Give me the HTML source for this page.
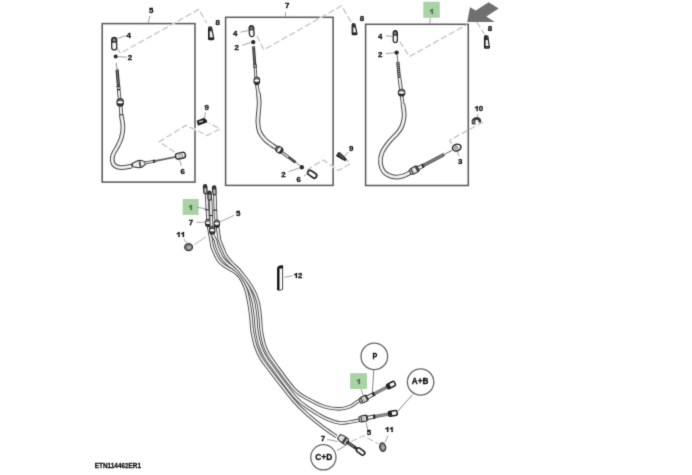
<!DOCTYPE html>
<html><head><meta charset="utf-8"><style>
html,body{margin:0;padding:0;background:#fff;}
svg{display:block;}
</style></head><body>
<svg width="692" height="475" viewBox="0 0 692 475">
<defs><filter id="soft" x="0" y="0" width="692" height="475" filterUnits="userSpaceOnUse" color-interpolation-filters="sRGB"><feConvolveMatrix order="3" kernelMatrix="1 6 1 6 36 6 1 6 1" divisor="64" edgeMode="duplicate" preserveAlpha="true"/></filter></defs>
<g filter="url(#soft)">
<rect width="692" height="475" fill="#fff"/>
<g fill="none" stroke="#5c5c5c" stroke-width="1.55">
<rect x="102.2" y="23.6" width="92.8" height="158.5"/>
<rect x="225.6" y="17.3" width="107.5" height="168.1"/>
<rect x="365.6" y="24.3" width="102.7" height="161.2"/>
</g>
<rect x="172.2" y="22.5" width="2.9" height="2.3" fill="#fff" opacity="0.8"/>
<rect x="319.6" y="16.2" width="2.9" height="2.3" fill="#fff" opacity="0.8"/>
<rect x="193.9" y="127.9" width="2.3" height="2.6" fill="#fff" opacity="0.8"/>
<rect x="332" y="165.6" width="2.3" height="2.6" fill="#fff" opacity="0.8"/>
<polyline points="116.8,48 120.6,53.2 198.8,9.4 206.8,23.2" fill="none" stroke="#c2c2c2" stroke-width="1.25" stroke-dasharray="6.4,2.6"/>
<polyline points="174.6,152 159.2,141.7 186,125.3 207,135.5 220,129 209,123" fill="none" stroke="#c2c2c2" stroke-width="1.25" stroke-dasharray="6.4,2.6"/>
<g transform="translate(114.2,43.7) rotate(0)"><rect x="-2.5" y="-6.25" width="5" height="12.5" rx="2.5" fill="#f4f4f4" stroke="#2e2e2e" stroke-width="1.3"/><path d="M-2.5,-3.75 A2.5,2.5 0 0 1 2.5,-3.75 L2.5,-1.0 L-2.5,-1.0 Z" fill="#333"/><rect x="-1.2" y="-4.85" width="2.4" height="2.5" rx="0.6" fill="#999"/></g>
<circle cx="115.7" cy="56.4" r="2.0" fill="#2c2c2c"/>
<line x1="117.6" y1="38.5" x2="126" y2="35.5" stroke="#8a8a8a" stroke-width="0.8"/>
<line x1="117.8" y1="56.6" x2="127" y2="57.2" stroke="#8a8a8a" stroke-width="0.8"/>
<path d="M116.3,63.0 C116.4,64.0 116.8,68.0 116.9,69.0" fill="none" stroke="#999" stroke-width="1.1" stroke-linecap="round"/>
<line x1="117.1" y1="69.5" x2="118.4" y2="85.4" stroke="#333" stroke-width="3.2"/><line x1="117.1" y1="70.1" x2="118.4" y2="84.80000000000001" stroke="#8a8a8a" stroke-width="1.5000000000000002" stroke-dasharray="1.2,0.9"/>
<line x1="118.4" y1="85.4" x2="118.8" y2="90.7" stroke="#2a2a2a" stroke-width="3.6"/><line x1="118.53999999999999" y1="87.25500000000001" x2="118.66" y2="88.84500000000001" stroke="#eee" stroke-width="2.2"/>
<line x1="118.8" y1="90.7" x2="119.6" y2="98.6" stroke="#4a4a4a" stroke-width="3.6"/><line x1="118.8" y1="90.7" x2="119.6" y2="98.6" stroke="#f0f0f0" stroke-width="1.8"/>
<line x1="120.6" y1="106" x2="121.4" y2="115.8" stroke="#4a4a4a" stroke-width="3.8"/><line x1="120.6" y1="106" x2="121.4" y2="115.8" stroke="#f0f0f0" stroke-width="1.9999999999999998"/>
<line x1="119" y1="114.8" x2="123.4" y2="114.8" stroke="#333" stroke-width="1"/>
<g transform="translate(120.2,102.4)"><ellipse rx="3.8" ry="4.3" fill="#2e2e2e"/><ellipse cy="-0.2" rx="2.9" ry="1.3" fill="#fafafa"/><ellipse cy="-2.6" rx="2.4" ry="0.6" fill="#888"/></g>
<path d="M121.3,115.6 C121.6,117.4 122.9,123.0 122.9,126.6 C123.0,130.2 122.4,133.8 121.6,137.0 C120.8,140.2 119.5,142.3 118.0,145.5 C116.5,148.7 113.3,152.8 112.6,156.0 C111.9,159.2 112.3,162.6 113.7,164.5 C115.1,166.4 118.0,167.3 121.0,167.6 C124.0,167.9 129.8,166.4 131.6,166.2" fill="none" stroke="#4a4a4a" stroke-width="4.7" stroke-linecap="butt"/><path d="M121.3,115.6 C121.6,117.4 122.9,123.0 122.9,126.6 C123.0,130.2 122.4,133.8 121.6,137.0 C120.8,140.2 119.5,142.3 118.0,145.5 C116.5,148.7 113.3,152.8 112.6,156.0 C111.9,159.2 112.3,162.6 113.7,164.5 C115.1,166.4 118.0,167.3 121.0,167.6 C124.0,167.9 129.8,166.4 131.6,166.2" fill="none" stroke="#efefef" stroke-width="2.7" stroke-linecap="butt"/>
<g transform="translate(139.5,164) rotate(-10)"><path d="M-7.6,-1.5 L-1.5,-3.5 L1.8,-3.5 L5.6,-1.5 L5.6,1.5 L1.8,3.5 L-1.5,3.5 L-7.6,1.5 Z" fill="#ececec" stroke="#333" stroke-width="1.1"/><rect x="-0.4" y="-3.4" width="1.8" height="6.8" fill="#555"/><line x1="-7.2" y1="-1.3" x2="-7.2" y2="1.3" stroke="#333" stroke-width="1"/></g>
<line x1="145" y1="163" x2="153.2" y2="161.4" stroke="#4a4a4a" stroke-width="3.0"/><line x1="145" y1="163" x2="153.2" y2="161.4" stroke="#f0f0f0" stroke-width="1.2"/>
<line x1="153" y1="161.5" x2="155.2" y2="161" stroke="#222" stroke-width="3.2"/>
<path d="M155.0,161.0 C158.2,160.4 171.2,157.8 174.5,157.2" fill="none" stroke="#666" stroke-width="1.8" stroke-linecap="round"/>
<g transform="translate(180.5,155.7) rotate(-12)"><rect x="-5" y="-2.9" width="10" height="5.8" rx="2.6" fill="#fafafa" stroke="#2e2e2e" stroke-width="1.5"/><rect x="-1.8" y="-1.2" width="3.8" height="2.4" fill="#fff" stroke="#555" stroke-width="0.6"/></g>
<line x1="179.8" y1="160" x2="181.3" y2="166.2" stroke="#8a8a8a" stroke-width="0.8"/>
<g transform="translate(202,121.5) rotate(-15)"><path d="M-5,-2 L3,-3 L5,0 L5,2 L-5,3 Z" fill="#222"/><rect x="-3" y="-1" width="4" height="1.6" fill="#bbb"/></g>
<line x1="205.5" y1="112.4" x2="204.5" y2="118.2" stroke="#8a8a8a" stroke-width="0.8"/>
<path d="M208.6,28.2 Q208.6,26.8 209.9,26.8 L211.6,27.400000000000002 L213.79999999999998,38.800000000000004 Q213.79999999999998,39.6 212.79999999999998,39.6 L209.5,39.6 Q208.6,39.6 208.6,38.7 Z" fill="#f6f6f6" stroke="#222" stroke-width="1.2"/><path d="M209.0,28.2 Q209.0,27.2 209.9,27.2 L211.4,27.7 L212.1,31.28 L209.0,31.28 Z" fill="#333"/><rect x="208.9" y="37.4" width="4.6000000000000005" height="1.6" fill="#222"/><line x1="209.2" y1="27.8" x2="209.2" y2="38.6" stroke="#222" stroke-width="1"/>
<polyline points="256.8,35.8 263.9,49.8 341.6,5.8 352.2,23.8" fill="none" stroke="#c2c2c2" stroke-width="1.25" stroke-dasharray="6.4,2.6"/>
<polyline points="306.6,170 323.4,160 338.2,170.5 350.3,163.7 346.6,159.5" fill="none" stroke="#c2c2c2" stroke-width="1.25" stroke-dasharray="6.4,2.6"/>
<g transform="translate(251.6,31.2) rotate(-3)"><rect x="-2.3" y="-5.5" width="4.6" height="11" rx="2.3" fill="#f4f4f4" stroke="#2e2e2e" stroke-width="1.3"/><path d="M-2.3,-3.2 A2.3,2.3 0 0 1 2.3,-3.2 L2.3,-0.8799999999999999 L-2.3,-0.8799999999999999 Z" fill="#333"/><rect x="-0.9999999999999998" y="-4.1" width="1.9999999999999996" height="2.2" rx="0.6" fill="#999"/></g>
<circle cx="253.2" cy="42.1" r="2.2" fill="#2c2c2c"/>
<line x1="240.5" y1="32.1" x2="249" y2="30.5" stroke="#8a8a8a" stroke-width="0.8"/>
<line x1="242.1" y1="45.3" x2="250.5" y2="42.6" stroke="#8a8a8a" stroke-width="0.8"/>
<line x1="253.5" y1="46.3" x2="254.8" y2="64.2" stroke="#333" stroke-width="2.9"/><line x1="253.5" y1="46.9" x2="254.8" y2="63.6" stroke="#8a8a8a" stroke-width="1.2" stroke-dasharray="1.2,0.9"/>
<line x1="254.8" y1="64.2" x2="255.2" y2="67.9" stroke="#2a2a2a" stroke-width="3.6"/><line x1="254.94" y1="65.495" x2="255.06" y2="66.60500000000002" stroke="#eee" stroke-width="2.2"/>
<line x1="255.2" y1="67.9" x2="255.8" y2="76.6" stroke="#4a4a4a" stroke-width="3.0"/><line x1="255.2" y1="67.9" x2="255.8" y2="76.6" stroke="#f0f0f0" stroke-width="1.2"/>
<line x1="256.8" y1="84.5" x2="258.2" y2="93.4" stroke="#4a4a4a" stroke-width="3.6"/><line x1="256.8" y1="84.5" x2="258.2" y2="93.4" stroke="#f0f0f0" stroke-width="1.8"/>
<g transform="translate(256.8,80.8)"><ellipse rx="3.4" ry="4.4" fill="#2e2e2e"/><ellipse cy="-0.2" rx="2.5" ry="1.3" fill="#fafafa"/><ellipse cy="-2.6" rx="2.0" ry="0.6" fill="#888"/></g>
<path d="M258.4,93.0 C258.5,94.7 259.2,99.8 259.2,103.0 C259.2,106.2 258.7,108.7 258.5,112.0 C258.3,115.3 257.7,119.4 257.9,122.7 C258.1,126.0 258.4,129.2 259.6,132.0 C260.8,134.8 263.0,137.6 265.2,139.8 C267.4,142.1 270.7,144.1 272.6,145.5 C274.5,146.9 275.9,147.6 276.5,148.0" fill="none" stroke="#4a4a4a" stroke-width="4.7" stroke-linecap="butt"/><path d="M258.4,93.0 C258.5,94.7 259.2,99.8 259.2,103.0 C259.2,106.2 258.7,108.7 258.5,112.0 C258.3,115.3 257.7,119.4 257.9,122.7 C258.1,126.0 258.4,129.2 259.6,132.0 C260.8,134.8 263.0,137.6 265.2,139.8 C267.4,142.1 270.7,144.1 272.6,145.5 C274.5,146.9 275.9,147.6 276.5,148.0" fill="none" stroke="#efefef" stroke-width="2.7" stroke-linecap="butt"/>
<g transform="translate(279.3,149.8) rotate(-55)"><ellipse rx="3.6" ry="4.4" fill="#2e2e2e"/><ellipse cy="-0.2" rx="2.7" ry="1.3" fill="#fafafa"/><ellipse cy="-2.6" rx="2.2" ry="0.6" fill="#888"/></g>
<line x1="282.6" y1="152.8" x2="288.4" y2="157.2" stroke="#4a4a4a" stroke-width="3.2"/><line x1="282.6" y1="152.8" x2="288.4" y2="157.2" stroke="#f0f0f0" stroke-width="1.4000000000000001"/>
<line x1="288.4" y1="157.2" x2="295.6" y2="162.3" stroke="#333" stroke-width="2.7"/><line x1="288.4" y1="157.79999999999998" x2="295.6" y2="161.70000000000002" stroke="#8a8a8a" stroke-width="1.0000000000000002" stroke-dasharray="1.2,0.9"/>
<path d="M295.6,162.3 C296.3,162.9 299.3,165.1 300.0,165.6" fill="none" stroke="#777" stroke-width="1.0" stroke-linecap="round"/>
<circle cx="301.8" cy="167.2" r="2.2" fill="#2c2c2c"/>
<line x1="288.6" y1="171.8" x2="299.3" y2="168" stroke="#8a8a8a" stroke-width="0.8"/>
<g transform="translate(312.2,174.2) rotate(35)"><rect x="-4.9" y="-2.4" width="9.8" height="4.8" rx="2.2" fill="#fafafa" stroke="#2a2a2a" stroke-width="1.8"/></g>
<line x1="304" y1="176.3" x2="308.7" y2="172" stroke="#8a8a8a" stroke-width="0.8"/>
<g transform="translate(341.8,157) rotate(36)"><path d="M-5.6,-1.6 Q-5.6,-2.6 -4.4,-2.6 L1.5,-2.1 L5.4,-1.2 L5.4,1.2 L1.5,2.1 L-4.4,2.6 Q-5.6,2.6 -5.6,1.6 Z" fill="#2a2a2a"/><path d="M-4.2,-0.5 L1.5,-0.3" stroke="#888" stroke-width="0.8"/><line x1="1.8" y1="-2" x2="1.8" y2="2" stroke="#666" stroke-width="0.6"/></g>
<line x1="348.2" y1="152" x2="344.5" y2="156.3" stroke="#8a8a8a" stroke-width="0.8"/>
<path d="M352.2,25.0 Q352.2,23.6 353.5,23.6 L354.9,24.200000000000003 L357.0,33.800000000000004 Q357.0,34.6 356.0,34.6 L353.09999999999997,34.6 Q352.2,34.6 352.2,33.7 Z" fill="#f6f6f6" stroke="#222" stroke-width="1.2"/><path d="M352.59999999999997,25.0 Q352.59999999999997,24.0 353.5,24.0 L354.7,24.5 L355.4,27.450000000000003 L352.59999999999997,27.450000000000003 Z" fill="#333"/><rect x="352.5" y="32.4" width="4.2" height="1.6" fill="#222"/><line x1="352.8" y1="24.6" x2="352.8" y2="33.6" stroke="#222" stroke-width="1"/>
<polyline points="399.7,41.5 409.5,56.5 467,24.5" fill="none" stroke="#c2c2c2" stroke-width="1.25" stroke-dasharray="6.4,2.6"/>
<polyline points="476.8,22 484.5,34" fill="none" stroke="#c2c2c2" stroke-width="1.25" stroke-dasharray="6.4,2.6"/>
<polyline points="483.2,122 450,140 450,142 453.5,144.2" fill="none" stroke="#c2c2c2" stroke-width="1.25" stroke-dasharray="6.4,2.6"/>
<g transform="translate(395.3,36.6) rotate(0)"><rect x="-2.1" y="-6.0" width="4.2" height="12" rx="2.1" fill="#f4f4f4" stroke="#2e2e2e" stroke-width="1.3"/><path d="M-2.1,-3.9 A2.1,2.1 0 0 1 2.1,-3.9 L2.1,-0.96 L-2.1,-0.96 Z" fill="#333"/><rect x="-0.8" y="-4.6" width="1.6" height="2.4000000000000004" rx="0.6" fill="#999"/></g>
<circle cx="396.6" cy="52.6" r="2.2" fill="#2c2c2c"/>
<line x1="385.8" y1="35.8" x2="392.7" y2="36.4" stroke="#8a8a8a" stroke-width="0.8"/>
<line x1="385.8" y1="53.5" x2="394.4" y2="52.8" stroke="#8a8a8a" stroke-width="0.8"/>
<path d="M397.2,55.0 C397.3,56.2 397.7,60.8 397.8,62.0" fill="none" stroke="#777" stroke-width="1.1" stroke-linecap="round"/>
<line x1="397.8" y1="62" x2="399.3" y2="77.8" stroke="#333" stroke-width="3.2"/><line x1="397.8" y1="62.6" x2="399.3" y2="77.2" stroke="#bbb" stroke-width="1.5000000000000002" stroke-dasharray="1.2,0.9"/>
<line x1="399.4" y1="77.8" x2="401" y2="89.2" stroke="#4a4a4a" stroke-width="3.8"/><line x1="399.4" y1="77.8" x2="401" y2="89.2" stroke="#f0f0f0" stroke-width="1.9999999999999998"/>
<line x1="401.6" y1="96" x2="402.8" y2="104.4" stroke="#4a4a4a" stroke-width="3.6"/><line x1="401.6" y1="96" x2="402.8" y2="104.4" stroke="#f0f0f0" stroke-width="1.8"/>
<g transform="translate(401.6,92.7)"><ellipse rx="3.8" ry="3.9" fill="#2e2e2e"/><ellipse cy="-0.2" rx="2.9" ry="1.3" fill="#fafafa"/><ellipse cy="-2.6" rx="2.4" ry="0.6" fill="#888"/></g>
<path d="M402.8,104.0 C403.0,105.0 403.6,107.8 403.8,110.0 C404.0,112.2 404.4,114.3 404.1,117.0 C403.8,119.7 403.1,123.3 402.0,126.0 C400.9,128.7 399.7,130.3 397.5,133.0 C395.3,135.7 391.6,138.7 389.0,142.0 C386.4,145.3 383.4,149.2 382.0,152.7 C380.6,156.2 380.1,159.5 380.5,162.8 C380.9,166.1 382.1,170.1 384.5,172.5 C386.9,174.9 391.4,176.5 394.7,177.0 C398.0,177.5 401.5,176.4 404.1,175.6 C406.7,174.8 409.3,172.9 410.4,172.3" fill="none" stroke="#4a4a4a" stroke-width="4.7" stroke-linecap="butt"/><path d="M402.8,104.0 C403.0,105.0 403.6,107.8 403.8,110.0 C404.0,112.2 404.4,114.3 404.1,117.0 C403.8,119.7 403.1,123.3 402.0,126.0 C400.9,128.7 399.7,130.3 397.5,133.0 C395.3,135.7 391.6,138.7 389.0,142.0 C386.4,145.3 383.4,149.2 382.0,152.7 C380.6,156.2 380.1,159.5 380.5,162.8 C380.9,166.1 382.1,170.1 384.5,172.5 C386.9,174.9 391.4,176.5 394.7,177.0 C398.0,177.5 401.5,176.4 404.1,175.6 C406.7,174.8 409.3,172.9 410.4,172.3" fill="none" stroke="#efefef" stroke-width="2.7" stroke-linecap="butt"/>
<g transform="translate(410.2,172.4) rotate(-27.8)"><path d="M0,-2.3 L2.5,-3.1 L7.5,-3.1 L9,-2.4 L9,2.4 L7.5,3.1 L2.5,3.1 L0,2.3 Z" fill="#e6e6e6" stroke="#333" stroke-width="1.1"/><rect x="1.5" y="-2.8" width="1.4" height="5.6" fill="#444"/><rect x="6.6" y="-2.9" width="1.8" height="5.8" fill="#333"/><rect x="9" y="-1.6" width="6" height="3.2" fill="#f4f4f4" stroke="#333" stroke-width="0.9"/><rect x="13.2" y="-1.9" width="1.8" height="3.8" fill="#222"/><rect x="15" y="-1.3" width="23" height="2.6" fill="#999" stroke="#444" stroke-width="0.8"/><line x1="15.5" y1="0" x2="37.5" y2="0" stroke="#555" stroke-width="1.2" stroke-dasharray="0.9,0.8"/><line x1="38" y1="0" x2="47" y2="0" stroke="#777" stroke-width="1"/></g>
<g transform="translate(456.7,147.6) rotate(-20)"><ellipse rx="4.4" ry="3.3" fill="#f2f2f2" stroke="#2a2a2a" stroke-width="1.5"/><ellipse cx="-0.6" rx="1.6" ry="1.2" fill="#fff" stroke="#333" stroke-width="0.8"/></g>
<line x1="457.4" y1="151.6" x2="458.9" y2="156.2" stroke="#8a8a8a" stroke-width="0.8"/>
<path d="M471.8,124.3 L471.6,120.3 Q473.2,117 476.8,116.9 Q480.6,117.2 481.2,120.2 L481,122.4 L478.8,122.8 Q478.6,119.8 476.6,119.7 Q474.9,119.9 475.3,122.2 L475.6,124.6 Z" fill="#3a3a3a"/>
<path d="M472.6,122.5 L472.6,120.8 L474.4,120.2 L474.5,123.5 Z" fill="#888"/>
<line x1="478" y1="114" x2="477.3" y2="117.5" stroke="#8a8a8a" stroke-width="0.8"/>
<path d="M484.5,37.0 Q484.5,35.6 485.8,35.6 L487.8,36.2 L489.4,47.400000000000006 Q489.4,48.2 488.4,48.2 L485.4,48.2 Q484.5,48.2 484.5,47.300000000000004 Z" fill="#f6f6f6" stroke="#222" stroke-width="1.2"/><path d="M484.9,37.0 Q484.9,36.0 485.8,36.0 L487.6,36.5 L488.3,40.010000000000005 L484.9,40.010000000000005 Z" fill="#333"/><rect x="484.8" y="46.0" width="4.300000000000001" height="1.6" fill="#222"/><line x1="485.1" y1="36.6" x2="485.1" y2="47.2" stroke="#222" stroke-width="1"/>
<path d="M467.2,22.1 L470,7.2 L475.8,10.5 L488.6,2.3 L498.7,8.4 L486.3,16.6 L494.7,21.9 Z" fill="#707070"/>
<line x1="149.8" y1="16" x2="148.2" y2="23.5" stroke="#8a8a8a" stroke-width="0.8"/>
<line x1="285.7" y1="12" x2="285.2" y2="17.3" stroke="#8a8a8a" stroke-width="0.8"/>
<line x1="430.4" y1="17.8" x2="429.6" y2="24.3" stroke="#8a8a8a" stroke-width="0.8"/>
<rect x="423.3" y="1.7" width="16.5" height="16.1" fill="#a9d3a4"/>
<rect x="182.7" y="198.9" width="15.9" height="16" fill="#a9d3a4"/>
<rect x="350.1" y="373.2" width="16.9" height="15.8" fill="#a9d3a4"/>
<path d="M208.6,226.0 C209.0,228.5 210.5,237.2 211.2,240.7 C211.8,244.3 211.7,245.2 212.4,247.5 C213.1,249.7 214.2,252.1 215.3,254.4 C216.5,256.8 217.3,259.2 219.2,261.4 C221.1,263.6 224.2,265.9 226.8,267.6 C229.4,269.3 232.3,270.1 234.5,271.7 C236.8,273.2 238.5,275.0 240.1,277.1 C241.6,279.2 242.9,281.8 243.9,284.2 C245.0,286.6 245.8,289.0 246.5,291.3 C247.1,293.6 247.5,295.8 248.0,298.2 C248.5,300.6 248.9,302.4 249.5,305.8 C250.0,309.2 250.7,314.3 251.1,318.5 C251.6,322.6 251.6,326.8 252.1,330.6 C252.7,334.3 253.5,338.0 254.2,341.0 C254.9,344.0 255.4,345.7 256.5,348.5 C257.6,351.4 259.0,354.8 261.0,358.1 C263.0,361.4 263.0,361.5 268.4,368.5 C273.8,375.6 286.7,392.6 293.5,400.5 C300.3,408.4 304.4,411.6 309.5,416.2 C314.6,420.8 319.7,424.6 324.2,428.0 C328.7,431.4 334.4,435.1 336.5,436.5" fill="none" stroke="#4a4a4a" stroke-width="3.6" stroke-linecap="butt"/><path d="M208.6,226.0 C209.0,228.5 210.5,237.2 211.2,240.7 C211.8,244.3 211.7,245.2 212.4,247.5 C213.1,249.7 214.2,252.1 215.3,254.4 C216.5,256.8 217.3,259.2 219.2,261.4 C221.1,263.6 224.2,265.9 226.8,267.6 C229.4,269.3 232.3,270.1 234.5,271.7 C236.8,273.2 238.5,275.0 240.1,277.1 C241.6,279.2 242.9,281.8 243.9,284.2 C245.0,286.6 245.8,289.0 246.5,291.3 C247.1,293.6 247.5,295.8 248.0,298.2 C248.5,300.6 248.9,302.4 249.5,305.8 C250.0,309.2 250.7,314.3 251.1,318.5 C251.6,322.6 251.6,326.8 252.1,330.6 C252.7,334.3 253.5,338.0 254.2,341.0 C254.9,344.0 255.4,345.7 256.5,348.5 C257.6,351.4 259.0,354.8 261.0,358.1 C263.0,361.4 263.0,361.5 268.4,368.5 C273.8,375.6 286.7,392.6 293.5,400.5 C300.3,408.4 304.4,411.6 309.5,416.2 C314.6,420.8 319.7,424.6 324.2,428.0 C328.7,431.4 334.4,435.1 336.5,436.5" fill="none" stroke="#efefef" stroke-width="1.8" stroke-linecap="butt"/>
<path d="M211.6,233.0 C212.2,234.2 214.4,237.8 215.3,240.0 C216.2,242.2 216.1,243.9 216.8,246.0 C217.5,248.1 218.5,250.4 219.5,252.5 C220.5,254.6 221.1,256.6 222.7,258.7 C224.3,260.8 226.8,263.1 229.0,265.0 C231.2,266.9 233.9,268.2 236.0,270.0 C238.1,271.8 239.8,273.8 241.5,276.0 C243.2,278.2 244.7,280.7 246.0,283.0 C247.3,285.3 248.5,287.7 249.5,290.0 C250.5,292.3 251.2,294.5 252.0,297.0 C252.8,299.5 253.4,301.5 254.0,305.0 C254.6,308.5 255.3,313.8 255.7,318.0 C256.1,322.2 256.1,326.3 256.6,330.0 C257.1,333.7 257.9,337.2 258.5,340.0 C259.1,342.8 259.5,344.3 260.5,347.0 C261.5,349.7 262.8,352.8 264.6,356.0 C266.4,359.2 266.5,359.2 271.5,366.0 C276.5,372.8 288.4,389.5 294.7,396.6 C301.0,403.7 304.6,405.3 309.5,408.8 C314.4,412.3 319.3,415.4 324.2,417.7 C329.1,420.0 334.7,422.1 339.0,422.8 C343.3,423.5 346.7,422.4 350.0,422.0 C353.3,421.6 357.1,420.6 358.9,420.3 C360.6,420.0 360.2,420.1 360.5,420.0" fill="none" stroke="#4a4a4a" stroke-width="3.6" stroke-linecap="butt"/><path d="M211.6,233.0 C212.2,234.2 214.4,237.8 215.3,240.0 C216.2,242.2 216.1,243.9 216.8,246.0 C217.5,248.1 218.5,250.4 219.5,252.5 C220.5,254.6 221.1,256.6 222.7,258.7 C224.3,260.8 226.8,263.1 229.0,265.0 C231.2,266.9 233.9,268.2 236.0,270.0 C238.1,271.8 239.8,273.8 241.5,276.0 C243.2,278.2 244.7,280.7 246.0,283.0 C247.3,285.3 248.5,287.7 249.5,290.0 C250.5,292.3 251.2,294.5 252.0,297.0 C252.8,299.5 253.4,301.5 254.0,305.0 C254.6,308.5 255.3,313.8 255.7,318.0 C256.1,322.2 256.1,326.3 256.6,330.0 C257.1,333.7 257.9,337.2 258.5,340.0 C259.1,342.8 259.5,344.3 260.5,347.0 C261.5,349.7 262.8,352.8 264.6,356.0 C266.4,359.2 266.5,359.2 271.5,366.0 C276.5,372.8 288.4,389.5 294.7,396.6 C301.0,403.7 304.6,405.3 309.5,408.8 C314.4,412.3 319.3,415.4 324.2,417.7 C329.1,420.0 334.7,422.1 339.0,422.8 C343.3,423.5 346.7,422.4 350.0,422.0 C353.3,421.6 357.1,420.6 358.9,420.3 C360.6,420.0 360.2,420.1 360.5,420.0" fill="none" stroke="#efefef" stroke-width="1.8" stroke-linecap="butt"/>
<path d="M217.6,227.0 C217.9,229.0 218.8,236.3 219.4,239.3 C220.0,242.2 220.5,242.7 221.2,244.5 C221.9,246.4 222.8,248.6 223.7,250.6 C224.5,252.5 224.9,254.1 226.2,256.0 C227.5,258.0 229.3,260.4 231.2,262.4 C233.1,264.5 235.5,266.3 237.5,268.3 C239.4,270.4 241.2,272.7 242.9,274.9 C244.7,277.1 246.5,279.5 248.1,281.8 C249.7,284.1 251.2,286.4 252.5,288.7 C253.9,291.0 255.0,293.2 256.0,295.8 C257.0,298.4 257.8,300.6 258.5,304.2 C259.2,307.8 259.9,313.3 260.3,317.5 C260.7,321.7 260.6,325.8 261.1,329.4 C261.5,333.0 262.2,336.3 262.8,339.0 C263.4,341.7 263.6,343.0 264.5,345.5 C265.4,347.9 266.6,350.9 268.2,353.9 C269.9,356.9 270.2,357.5 274.6,363.5 C279.0,369.4 288.9,383.7 294.7,389.8 C300.5,395.9 304.6,397.0 309.5,399.8 C314.4,402.6 319.3,405.1 324.2,406.6 C329.1,408.1 334.7,408.9 339.0,408.9 C343.3,408.9 346.9,407.8 350.0,406.6 C353.1,405.4 355.9,402.6 357.6,401.5 C359.4,400.4 360.0,400.2 360.5,400.0" fill="none" stroke="#4a4a4a" stroke-width="3.6" stroke-linecap="butt"/><path d="M217.6,227.0 C217.9,229.0 218.8,236.3 219.4,239.3 C220.0,242.2 220.5,242.7 221.2,244.5 C221.9,246.4 222.8,248.6 223.7,250.6 C224.5,252.5 224.9,254.1 226.2,256.0 C227.5,258.0 229.3,260.4 231.2,262.4 C233.1,264.5 235.5,266.3 237.5,268.3 C239.4,270.4 241.2,272.7 242.9,274.9 C244.7,277.1 246.5,279.5 248.1,281.8 C249.7,284.1 251.2,286.4 252.5,288.7 C253.9,291.0 255.0,293.2 256.0,295.8 C257.0,298.4 257.8,300.6 258.5,304.2 C259.2,307.8 259.9,313.3 260.3,317.5 C260.7,321.7 260.6,325.8 261.1,329.4 C261.5,333.0 262.2,336.3 262.8,339.0 C263.4,341.7 263.6,343.0 264.5,345.5 C265.4,347.9 266.6,350.9 268.2,353.9 C269.9,356.9 270.2,357.5 274.6,363.5 C279.0,369.4 288.9,383.7 294.7,389.8 C300.5,395.9 304.6,397.0 309.5,399.8 C314.4,402.6 319.3,405.1 324.2,406.6 C329.1,408.1 334.7,408.9 339.0,408.9 C343.3,408.9 346.9,407.8 350.0,406.6 C353.1,405.4 355.9,402.6 357.6,401.5 C359.4,400.4 360.0,400.2 360.5,400.0" fill="none" stroke="#efefef" stroke-width="1.8" stroke-linecap="butt"/>
<line x1="206.6" y1="194" x2="208" y2="219.5" stroke="#4a4a4a" stroke-width="3.6"/><line x1="206.6" y1="194" x2="208" y2="219.5" stroke="#f0f0f0" stroke-width="1.8"/>
<line x1="204.79999999999998" y1="209.75" x2="208.79999999999998" y2="209.75" stroke="#333" stroke-width="1.2"/>
<g transform="translate(205.3,189.3) rotate(-4)"><rect x="-2.3" y="-5.2" width="4.6" height="10.4" rx="2.2" fill="#333"/><rect x="-1.1" y="-1.2" width="2.2" height="5" rx="1" fill="#bbb"/></g>
<g transform="translate(208.2,223)"><ellipse rx="3.3" ry="4.3" fill="#2e2e2e"/><ellipse cy="-0.2" rx="2.4" ry="1.3" fill="#fafafa"/><ellipse cy="-2.6" rx="1.9" ry="0.6" fill="#888"/></g>
<line x1="214.9" y1="195" x2="215.7" y2="219.5" stroke="#4a4a4a" stroke-width="3.6"/><line x1="214.9" y1="195" x2="215.7" y2="219.5" stroke="#f0f0f0" stroke-width="1.8"/>
<line x1="213.1" y1="210.25" x2="217.1" y2="210.25" stroke="#333" stroke-width="1.2"/>
<g transform="translate(214.3,190.4) rotate(-4)"><rect x="-2.3" y="-5.2" width="4.6" height="10.4" rx="2.2" fill="#333"/><rect x="-1.1" y="-1.2" width="2.2" height="5" rx="1" fill="#bbb"/></g>
<g transform="translate(216.8,223.8)"><ellipse rx="3.3" ry="4.3" fill="#2e2e2e"/><ellipse cy="-0.2" rx="2.4" ry="1.3" fill="#fafafa"/><ellipse cy="-2.6" rx="1.9" ry="0.6" fill="#888"/></g>
<line x1="210.5" y1="199" x2="211.6" y2="226" stroke="#4a4a4a" stroke-width="3.6"/><line x1="210.5" y1="199" x2="211.6" y2="226" stroke="#f0f0f0" stroke-width="1.8"/>
<line x1="208.7" y1="215.5" x2="212.7" y2="215.5" stroke="#333" stroke-width="1.2"/>
<g transform="translate(209.6,195.6) rotate(-4)"><rect x="-2.3" y="-5.2" width="4.6" height="10.4" rx="2.2" fill="#333"/><rect x="-1.1" y="-1.2" width="2.2" height="5" rx="1" fill="#bbb"/></g>
<g transform="translate(212.2,230.4)"><ellipse rx="3.3" ry="4.3" fill="#2e2e2e"/><ellipse cy="-0.2" rx="2.4" ry="1.3" fill="#fafafa"/><ellipse cy="-2.6" rx="1.9" ry="0.6" fill="#888"/></g>
<g transform="translate(359.8,401.3) rotate(-27.5)"><path d="M0,-2.2 L2.5,-3.0 L7,-3.0 L8.4,-2.3 L8.4,2.3 L7,3.0 L2.5,3.0 L0,2.2 Z" fill="#e6e6e6" stroke="#333" stroke-width="1.1"/><rect x="1.5" y="-2.7" width="1.4" height="5.4" fill="#444"/><rect x="6.8" y="-2.8" width="1.5" height="5.6" fill="#333"/><rect x="4.0" y="-2.4" width="0.9" height="4.8" fill="#999"/><rect x="8.4" y="-1.6" width="8" height="3.2" fill="#f6f6f6" stroke="#333" stroke-width="0.9"/><rect x="14.2" y="-1.9" width="2.2" height="3.8" fill="#222"/><rect x="16.4" y="-1.2" width="14.5" height="2.4" fill="#aaa" stroke="#555" stroke-width="0.7"/><line x1="16.9" y1="0" x2="30.4" y2="0" stroke="#666" stroke-width="1.1" stroke-dasharray="0.9,0.8"/><rect x="30.9" y="-2.4" width="8.6" height="4.8" rx="1.2" fill="#fbfbfb" stroke="#1e1e1e" stroke-width="1.5"/><rect x="31.299999999999997" y="-2.0" width="3.0" height="4.0" fill="#222"/></g>
<g transform="translate(359.2,419.3) rotate(-10)"><path d="M0,-2.2 L2.5,-3.0 L7,-3.0 L8.4,-2.3 L8.4,2.3 L7,3.0 L2.5,3.0 L0,2.2 Z" fill="#e6e6e6" stroke="#333" stroke-width="1.1"/><rect x="1.5" y="-2.7" width="1.4" height="5.4" fill="#444"/><rect x="6.8" y="-2.8" width="1.5" height="5.6" fill="#333"/><rect x="4.0" y="-2.4" width="0.9" height="4.8" fill="#999"/><rect x="8.4" y="-1.6" width="8" height="3.2" fill="#f6f6f6" stroke="#333" stroke-width="0.9"/><rect x="14.2" y="-1.9" width="2.2" height="3.8" fill="#222"/><rect x="16.4" y="-1.2" width="13.5" height="2.4" fill="#aaa" stroke="#555" stroke-width="0.7"/><line x1="16.9" y1="0" x2="29.4" y2="0" stroke="#666" stroke-width="1.1" stroke-dasharray="0.9,0.8"/><rect x="29.9" y="-2.4" width="8.6" height="4.8" rx="1.2" fill="#fbfbfb" stroke="#1e1e1e" stroke-width="1.5"/><rect x="30.299999999999997" y="-2.0" width="3.0" height="4.0" fill="#222"/></g>
<g transform="translate(343,439.3) rotate(35)"><path d="M-5,-2.4 L-1,-3.4 L4,-3.4 L5.5,-2 L5.5,2 L4,3.4 L-1,3.4 L-5,2.4 Z" fill="#e0e0e0" stroke="#3a3a3a" stroke-width="1.1"/><rect x="0.5" y="-3.4" width="2.6" height="6.8" fill="#444"/></g>
<path d="M347.5,442.4 C348.8,443.3 354.2,446.9 355.5,447.8" fill="none" stroke="#333" stroke-width="3.2" stroke-linecap="round"/>
<path d="M349.5,443.7 C350.2,444.1 352.8,445.9 353.5,446.4" fill="none" stroke="#aaa" stroke-width="1.0" stroke-linecap="round"/>
<g transform="translate(360.6,451.5) rotate(36)"><rect x="-4.6" y="-2.1" width="9.2" height="4.2" rx="1.9" fill="#f4f4f4" stroke="#222" stroke-width="1.6"/></g>
<g fill="#fff" stroke="#666" stroke-width="1.3">
<circle cx="374.3" cy="356.4" r="13.3"/>
<circle cx="420.6" cy="382" r="13.2"/>
<circle cx="323.4" cy="457.3" r="12.6"/>
</g>
<line x1="373.8" y1="369.2" x2="372.4" y2="392.2" stroke="#777" stroke-width="0.9"/>
<line x1="412.6" y1="394.6" x2="397.4" y2="411.6" stroke="#777" stroke-width="0.9"/>
<line x1="337" y1="450.6" x2="347.3" y2="444.5" stroke="#888" stroke-width="0.9"/>
<g transform="translate(188.6,247.2) rotate(0)"><ellipse rx="3.9" ry="3.5" fill="#808080" stroke="#333" stroke-width="1.2"/><ellipse cx="0.5" cy="0.3" rx="1.755" ry="1.4000000000000001" fill="#b4b4b4"/></g>
<g transform="translate(382.7,447.2) rotate(-10)"><ellipse rx="3.0" ry="4.3" fill="#808080" stroke="#333" stroke-width="1.2"/><ellipse cx="0.5" cy="0.3" rx="1.35" ry="1.72" fill="#b4b4b4"/></g>
<line x1="183.8" y1="239" x2="186.6" y2="243" stroke="#8a8a8a" stroke-width="0.8"/>
<line x1="194.2" y1="244.8" x2="206" y2="236.7" stroke="#aaa" stroke-width="0.9"/>
<line x1="388" y1="435.4" x2="385" y2="442.3" stroke="#8a8a8a" stroke-width="0.8"/>
<path d="M278.4,290 L278.4,268.6 Q278.4,266.8 280.2,266.6 L281.8,266.6 L282.6,268.4 L282.6,289.4 L279.4,290.4 Z" fill="#fff" stroke="#333" stroke-width="0.9"/>
<path d="M278.3,290.3 L278.3,268.6 Q278.4,266.6 281.8,266.4 L282.4,268" fill="none" stroke="#111" stroke-width="2.4"/>
<line x1="279.6" y1="268.4" x2="282.5" y2="268.4" stroke="#444" stroke-width="0.8"/>
<line x1="284.2" y1="277.3" x2="292.6" y2="275.8" stroke="#8a8a8a" stroke-width="0.8"/>
<line x1="197.1" y1="207.3" x2="206" y2="208.7" stroke="#8a8a8a" stroke-width="0.8"/>
<line x1="196.4" y1="222.4" x2="206" y2="222.2" stroke="#8a8a8a" stroke-width="0.8"/>
<line x1="234" y1="215.4" x2="219.8" y2="222" stroke="#8a8a8a" stroke-width="0.8"/>
<line x1="361" y1="389" x2="363.2" y2="395.3" stroke="#8a8a8a" stroke-width="0.8"/>
<line x1="365.8" y1="422.4" x2="367.4" y2="427.6" stroke="#8a8a8a" stroke-width="0.8"/>
<line x1="327.4" y1="439.4" x2="337.5" y2="441.5" stroke="#8a8a8a" stroke-width="0.8"/>
<line x1="366.9" y1="426.3" x2="368" y2="430" stroke="#8a8a8a" stroke-width="0.8"/>
<polyline points="351.2,441.5 363.4,435.8 375,442 378.5,443.6" fill="none" stroke="#c2c2c2" stroke-width="1.1" stroke-dasharray="6.4,2.6"/>
<g font-family="Liberation Sans, sans-serif" font-weight="bold" fill="#111" stroke="#111" stroke-width="0.3">
<text x="151.2" y="13.1" font-size="7.9" text-anchor="middle">5</text>
<text x="128.8" y="38.3" font-size="7.9" text-anchor="middle">4</text>
<text x="130" y="60.3" font-size="7.9" text-anchor="middle">2</text>
<text x="217.7" y="25" font-size="7.9" text-anchor="middle">8</text>
<text x="206.6" y="110" font-size="7.9" text-anchor="middle">9</text>
<text x="182.8" y="173.5" font-size="7.9" text-anchor="middle">6</text>
<text x="287.3" y="8.1" font-size="7.9" text-anchor="middle">7</text>
<text x="235.3" y="36.3" font-size="7.9" text-anchor="middle">4</text>
<text x="236.8" y="49.8" font-size="7.9" text-anchor="middle">2</text>
<text x="362" y="21" font-size="7.9" text-anchor="middle">8</text>
<text x="351.3" y="151" font-size="7.9" text-anchor="middle">9</text>
<text x="283.5" y="177.3" font-size="7.9" text-anchor="middle">2</text>
<text x="298.7" y="182.2" font-size="7.9" text-anchor="middle">6</text>
<text x="380.1" y="38.5" font-size="7.9" text-anchor="middle">4</text>
<text x="380.1" y="56.6" font-size="7.9" text-anchor="middle">2</text>
<text x="490" y="30.8" font-size="7.9" text-anchor="middle">8</text>
<path d="M477.80,111.00 L477.80,106.00 L476.86,106.00 L476.30,106.81 L474.96,107.37 L474.96,108.28 L475.99,107.93 L476.62,107.51 L476.62,111.00 Z" fill="#111" stroke="#111" stroke-width="0.3"/>
<text x="481.00" y="110.8" font-size="7.9" text-anchor="middle">0</text>
<text x="460.1" y="163.5" font-size="7.9" text-anchor="middle">3</text>
<path d="M432.80,14.00 L432.80,9.00 L431.85,9.00 L431.30,9.81 L429.96,10.37 L429.96,11.28 L430.98,10.93 L431.62,10.51 L431.62,14.00 Z" fill="#3d6b41" stroke="#3d6b41" stroke-width="0.3"/>
<path d="M191.80,210.00 L191.80,205.00 L190.85,205.00 L190.30,205.81 L188.96,206.37 L188.96,207.28 L189.98,206.93 L190.62,206.51 L190.62,210.00 Z" fill="#3d6b41" stroke="#3d6b41" stroke-width="0.3"/>
<path d="M359.80,384.00 L359.80,379.00 L358.85,379.00 L358.30,379.81 L356.96,380.37 L356.96,381.28 L357.98,380.93 L358.62,380.51 L358.62,384.00 Z" fill="#3d6b41" stroke="#3d6b41" stroke-width="0.3"/>
<text x="190.9" y="225.3" font-size="7.9" text-anchor="middle">7</text>
<text x="238.1" y="215.8" font-size="7.9" text-anchor="middle">5</text>
<path d="M179.60,237.00 L179.60,232.00 L178.66,232.00 L178.10,232.81 L176.76,233.37 L176.76,234.28 L177.79,233.93 L178.42,233.51 L178.42,237.00 Z" fill="#111" stroke="#111" stroke-width="0.3"/>
<path d="M184.00,237.00 L184.00,232.00 L183.05,232.00 L182.50,232.81 L181.15,233.37 L181.15,234.28 L182.18,233.93 L182.81,233.51 L182.81,237.00 Z" fill="#111" stroke="#111" stroke-width="0.3"/>
<path d="M297.00,278.00 L297.00,273.00 L296.06,273.00 L295.50,273.81 L294.16,274.37 L294.16,275.28 L295.19,274.93 L295.82,274.51 L295.82,278.00 Z" fill="#111" stroke="#111" stroke-width="0.3"/>
<text x="300.20" y="278.2" font-size="7.9" text-anchor="middle">2</text>
<text x="368.9" y="434.5" font-size="7.9" text-anchor="middle">5</text>
<path d="M388.30,432.00 L388.30,427.00 L387.36,427.00 L386.80,427.81 L385.46,428.37 L385.46,429.28 L386.49,428.93 L387.12,428.51 L387.12,432.00 Z" fill="#111" stroke="#111" stroke-width="0.3"/>
<path d="M392.70,432.00 L392.70,427.00 L391.75,427.00 L391.20,427.81 L389.85,428.37 L389.85,429.28 L390.88,428.93 L391.51,428.51 L391.51,432.00 Z" fill="#111" stroke="#111" stroke-width="0.3"/>
<text x="323" y="441" font-size="7.9" text-anchor="middle">7</text>
<text transform="translate(375,358.7) scale(0.8,1)" font-size="9" text-anchor="middle">P</text>
<text x="420.1" y="384.3" font-size="8.2" text-anchor="middle">A+B</text>
<text x="323.7" y="459.7" font-size="8.4" text-anchor="middle">C+D</text>
<text x="94.8" y="468.1" font-size="8" text-anchor="start" textLength="46.2" lengthAdjust="spacingAndGlyphs">ETN114462ER1</text>
</g>
</g>
</svg>
</body></html>
